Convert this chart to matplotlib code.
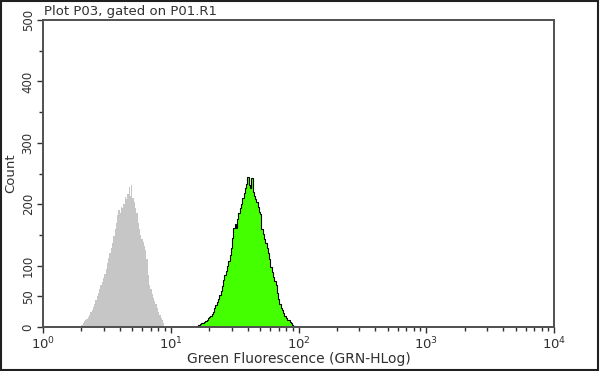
import numpy as np
import matplotlib
matplotlib.use("Agg")
import matplotlib.pyplot as plt
from matplotlib.patches import Rectangle
from matplotlib.ticker import FixedLocator, LogLocator, NullFormatter

# histogram channels, log10 of left edge, step 0.01
gray_start = 0.30
gray_counts = [3, 6, 9, 11, 13, 16, 20, 24, 28, 33,
               38, 44, 50, 56, 62, 68, 74, 80, 87, 95,
               104, 112, 120, 128, 136, 148, 160, 170, 182, 190,
               186, 196, 193, 200, 212, 208, 216, 228, 214, 231,
               210, 204, 194, 186, 170, 160, 150, 143, 138, 132,
               126, 110, 85, 68, 62, 54, 48, 42, 37, 31,
               25, 20, 15, 11, 6, 2]

green_start = 1.20
green_counts = [2, 3, 4, 5, 6, 7, 8, 10, 12, 14,
                16, 18, 21, 25, 31, 36, 41, 46, 52, 59,
                67, 76, 84, 92, 100, 108, 118, 128, 145, 162,
                168, 162, 176, 186, 194, 201, 210, 218, 226, 233,
                245, 232, 226, 242, 220, 214, 208, 203, 196, 188,
                184, 160, 152, 144, 136, 128, 121, 110, 98, 89,
                82, 75, 68, 56, 46, 38, 31, 27, 22, 18,
                15, 12, 11, 8, 6, 4, 2, 1]

step = 0.01
y_ticks = [0, 50, 100, 200, 300, 400, 500]
x_decades = [1, 10, 100, 1000, 10000]
x_ticklabels = ["$10^0$", "$10^1$", "$10^2$", "$10^3$", "$10^4$"]

def edges(start, n):
    return 10 ** (start + step * np.arange(n + 1))

txt = "#303030"
fig = plt.figure(figsize=(6, 3.71), dpi=100)
ax = fig.add_axes([43 / 600, 1 - 327 / 371, 511 / 600, 307 / 371])

ge = edges(gray_start, len(gray_counts))
ax.stairs(gray_counts, ge, fill=True, color="#c6c6c6", linewidth=0)

ee = edges(green_start, len(green_counts))
ax.stairs(green_counts, ee, fill=True, color="#44ff00", linewidth=0)
ax.stairs(green_counts, ee, fill=False, color="black", linewidth=0.8)

ax.set_xscale("log")
ax.set_xlim(1, 10000)
ax.set_ylim(0, 500)

ax.xaxis.set_major_locator(FixedLocator(x_decades))
ax.set_xticklabels(x_ticklabels)
ax.xaxis.set_minor_locator(LogLocator(base=10, subs=np.arange(2, 10)))
ax.xaxis.set_minor_formatter(NullFormatter())

ax.yaxis.set_major_locator(FixedLocator(y_ticks))
ax.yaxis.set_minor_locator(FixedLocator(np.arange(0, 501, 50)))
ax.set_yticklabels([str(v) for v in y_ticks], rotation=90, va="center")

ax.tick_params(which="both", direction="out", color=txt, labelcolor=txt,
               labelsize=8.5, width=1)
ax.tick_params(which="major", length=4, pad=2)
ax.tick_params(which="minor", length=3)
ax.tick_params(axis="x", which="major", labelsize=9.5)

for s in ax.spines.values():
    s.set_color("#505050")
    s.set_linewidth(1.4)

ax.set_xlabel("Green Fluorescence (GRN-HLog)", fontsize=10, color=txt, labelpad=0)
ax.set_ylabel("Count", fontsize=9.5, color=txt, labelpad=3)
fig.text(44 / 600, 1 - 11 / 371, "Plot P03, gated on P01.R1", fontsize=9.5,
         color=txt, ha="left", va="center")

fig.patches.append(Rectangle((0.002, 0.003), 0.995, 0.994, transform=fig.transFigure,
                             fill=False, edgecolor="#202020", linewidth=1.5))

fig.savefig("out.png", dpi=100)
